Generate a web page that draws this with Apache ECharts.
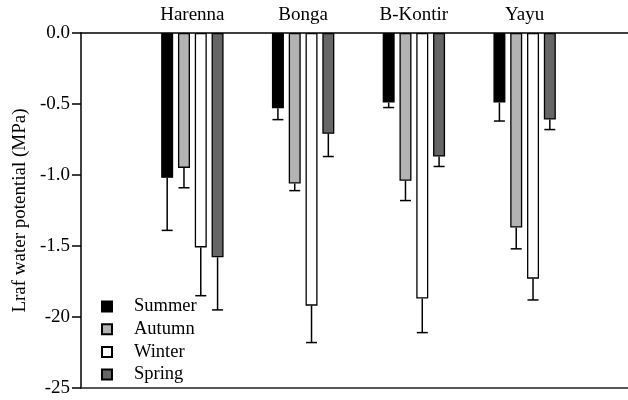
<!DOCTYPE html>
<html><head><meta charset="utf-8">
<script src="https://cdn.jsdelivr.net/npm/echarts@6/dist/echarts.min.js"></script>
<style>html,body{margin:0;padding:0;background:#fff}#c{width:628px;height:400px}</style>
</head><body><div id="c"></div>
<script>
const sites = ["Harenna", "Bonga", "B-Kontir", "Yayu"];
const seasons = ["Summer", "Autumn", "Winter", "Spring"];
const summer = [-1.02, -0.53, -0.49, -0.49];
const autumn = [-0.95, -1.06, -1.04, -1.37];
const winter = [-1.51, -1.92, -1.87, -1.73];
const spring = [-1.58, -0.71, -0.87, -0.61];
const summerErr = [0.37, 0.08, 0.035, 0.13];
const autumnErr = [0.14, 0.05, 0.14, 0.15];
const winterErr = [0.34, 0.26, 0.24, 0.15];
const springErr = [0.37, 0.16, 0.07, 0.07];
const yTickLabels = ["0.0", "-0.5", "-1.0", "-1.5", "-20", "-25"];

const values = [summer, autumn, winter, spring];
const errs = [summerErr, autumnErr, winterErr, springErr];
const colors = ["#000000", "#b3b3b3", "#ffffff", "#666666"];
const FONT = "Liberation Serif";
const BW = 12, GAP = 0.4;
const step = BW * (1 + GAP);

const series = [];
values.forEach((v, i) => {
  series.push({
    name: seasons[i], type: "bar", xAxisIndex: 2, yAxisIndex: 1,
    data: v, barWidth: BW, barGap: (GAP * 100) + "%",
    itemStyle: { color: colors[i], borderColor: "#000", borderWidth: 1.3 },
    animation: false
  });
});
values.forEach((v, i) => {
  series.push({
    type: "custom", xAxisIndex: 2, yAxisIndex: 1, z: 5, silent: true,
    data: v.map((val, k) => [k, val, val - errs[i][k]]),
    renderItem: function (params, api) {
      const off = (i - 1.5) * step;
      const p0 = api.coord([api.value(0), api.value(1)]);
      const p1 = api.coord([api.value(0), api.value(2)]);
      const x = p0[0] + off;
      const hw = 5.5;
      const st = { stroke: "#000", lineWidth: 1.5 };
      return { type: "group", children: [
        { type: "line", shape: { x1: x, y1: p0[1], x2: x, y2: p1[1] }, style: st },
        { type: "line", shape: { x1: x - hw, y1: p1[1], x2: x + hw, y2: p1[1] }, style: st }
      ]};
    },
    animation: false
  });
});

const chart = echarts.init(document.getElementById("c"));
chart.setOption({
  animation: false,
  backgroundColor: "#fff",
  textStyle: { fontFamily: FONT },
  grid: [
    { left: 81, right: 0, top: 33, bottom: 12 },
    { left: 137, width: 443, top: 33, bottom: 12 }
  ],
  legend: {
    orient: "vertical", left: 96, top: 292, height: 108,
    itemWidth: 10, itemHeight: 10, itemGap: 3.7,
    icon: "rect",
    data: seasons,
    textStyle: { fontFamily: FONT, fontSize: 18.5, color: "#000", padding: [0, 0, 0, 17] }
  },
  xAxis: [
    { gridIndex: 0, type: "value", min: 0, max: 1, position: "top",
      axisLine: { show: true, onZero: false, lineStyle: { color: "#000", width: 1.5 } },
      axisTick: { show: false }, axisLabel: { show: false }, splitLine: { show: false } },
    { gridIndex: 0, type: "value", min: 0, max: 1, position: "bottom",
      axisLine: { show: true, onZero: false, lineStyle: { color: "#222", width: 1.5 } },
      axisTick: { show: false }, axisLabel: { show: false }, splitLine: { show: false } },
    { gridIndex: 1, type: "category", data: sites, position: "top",
      axisLine: { show: false }, axisTick: { show: false },
      axisLabel: { fontFamily: FONT, fontSize: 19, color: "#000", margin: 8 } }
  ],
  yAxis: [
    { gridIndex: 0, type: "value", min: -2.5, max: 0, interval: 0.5,
      name: "Lraf water potential (MPa)", nameLocation: "middle", nameGap: 45,
      nameTextStyle: { fontFamily: FONT, fontSize: 19, color: "#000" },
      axisLine: { show: true, lineStyle: { color: "#000", width: 1.5 } },
      axisTick: { show: true, length: 9, lineStyle: { color: "#000", width: 1.5 } },
      axisLabel: { fontFamily: FONT, fontSize: 19, color: "#000", margin: 11,
        formatter: function (val) { const idx = Math.round(-val / 0.5); return yTickLabels[idx]; } },
      splitLine: { show: false } },
    { gridIndex: 1, type: "value", min: -2.5, max: 0, show: false }
  ],
  series: series
});
</script></body></html>
